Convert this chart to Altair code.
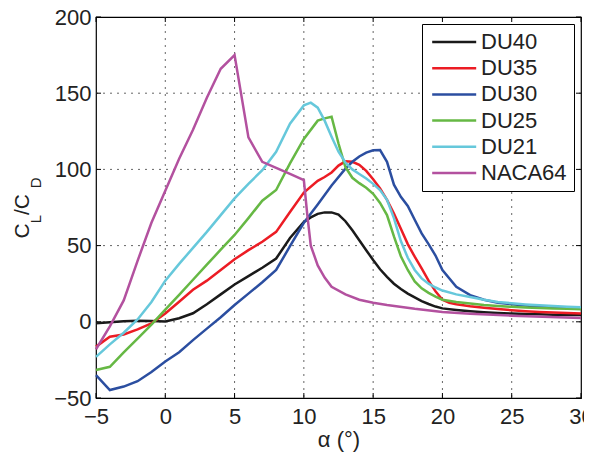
import altair as alt
import pandas as pd

FONT = "Liberation Sans"
TXT = "#222222"

series_names = ["DU40", "DU35", "DU30", "DU25", "DU21", "NACA64"]
series_colors = ["#1a1a1a", "#ec1c24", "#2b4ea0", "#66b844", "#66c8db", "#b3519f"]

x_ticks = [-5, 0, 5, 10, 15, 20, 25, 30]
y_ticks = [-50, 0, 50, 100, 150, 200]
x_grid = [0, 5, 10, 15, 20, 25]
y_grid = [0, 50, 100, 150]

du40_a = [-5, -4, -3, -2, -1, 0, 1, 2, 3, 4, 5, 6, 7, 8, 9, 10, 10.5, 11, 11.5, 12, 12.5, 13, 13.5, 14,
          14.5, 15, 15.5, 16, 16.5, 17, 17.5, 18, 18.5, 19, 19.5, 20, 21, 22, 23, 24, 25, 26, 27, 28, 29, 30]
du40_r = [-1, -0.3, 0.3, 0.7, 0.6, 0.2, 2.3, 5.6, 11.5, 18, 24.5, 30, 35.5, 41.5, 55, 65.5, 68.5, 70.8, 71.8,
          71.8, 70.3, 66, 60, 53.5, 47, 40.5, 34.5, 29.5, 25, 21.5, 18.5, 16, 13.6, 11.7, 10, 8.8, 7.8, 7.0,
          6.3, 5.8, 5.4, 5.1, 4.9, 4.7, 4.5, 4.4]

du35_a = [-5, -4, -3, -2, -1, 0, 1, 2, 3, 4, 5, 6, 7, 8, 9, 10, 11, 11.5, 12, 12.5, 13, 13.5, 14, 14.5, 15,
          15.5, 16, 16.5, 17, 17.5, 18, 18.5, 19, 19.5, 20, 20.5, 21, 22, 23, 24, 25, 26, 27, 28, 29, 30]
du35_r = [-16.3, -9.8, -8.3, -5, -1, 5.5, 13.2, 21, 27, 34, 41, 47, 52.5, 59, 72, 84.8, 92.5, 95, 98, 102.5,
          105.3, 105, 103, 99, 93.5, 87.5, 80, 71, 61, 51, 42.7, 35, 27, 20, 14.5, 12.5, 11.5, 10.2, 9.2,
          8.4, 7.6, 7, 6.5, 6.1, 5.7, 5.4]

du30_a = [-5, -4, -3, -2, -1, 0, 1, 2, 3, 4, 5, 6, 7, 8, 9, 10, 11, 12, 13, 13.5, 14, 14.5, 15, 15.5, 16,
          16.5, 17, 17.5, 18, 18.5, 19, 19.5, 20, 21, 22, 23, 24, 25, 26, 27, 28, 29, 30]
du30_r = [-35, -44.8, -42.5, -39, -33, -26, -20, -12, -4.5, 3, 11, 18.5, 26, 34, 49.6, 65, 77, 89.5, 100.5,
          105, 108.5, 111, 112.5, 112.7, 105, 90, 82, 76, 67, 58, 51, 43.5, 34, 23, 17.5, 14.5, 12.5, 11.5,
          10.7, 10.1, 9.6, 9.2, 8.9]

du25_a = [-5, -4, -3, -2, -1, 0, 1, 2, 3, 4, 5, 6, 7, 8, 9, 10, 11, 11.5, 12, 12.5, 13, 13.5, 14, 14.5, 15,
          15.5, 16, 16.5, 17, 17.5, 18, 18.5, 19, 19.5, 20, 21, 22, 23, 24, 25, 26, 27, 28, 29, 30]
du25_r = [-31.6, -29.5, -20, -11, -1.9, 8, 17.7, 27.6, 37.5, 47.3, 57, 68, 79.5, 86.5, 104, 120, 132, 133.5,
          134.6, 117, 101.5, 94.5, 91, 88, 84, 78, 70, 56, 43, 34, 26.5, 22, 19, 16.5, 14.5, 13, 12, 11,
          10.3, 9.8, 9.4, 9, 8.7, 8.5, 8.3]

du21_a = [-5, -4, -3, -2, -1, 0, 1, 2, 3, 4, 5, 6, 7, 8, 9, 10, 10.5, 11, 11.5, 12, 12.5, 13, 13.5, 14, 14.5,
          15, 15.5, 16, 16.5, 17, 17.5, 18, 18.5, 19, 19.5, 20, 21, 22, 23, 24, 25, 26, 27, 28, 29, 30]
du21_r = [-23, -14.8, -7.2, 1.5, 13, 27, 38, 48.5, 59, 70, 81, 90.5, 99.5, 111.5, 130, 142, 143.8, 140.5,
          132, 121.5, 111.6, 104.5, 100, 97, 94, 90.5, 86.5, 80, 68, 53, 42, 34, 28.5, 25, 22.5, 20.5, 18,
          16.3, 14.5, 13, 12.2, 11.4, 10.8, 10.3, 9.9, 9.6]

naca_a = [-5, -4, -3, -2, -1, 0, 1, 2, 3, 4, 5, 6, 7, 8, 9, 10, 10.25, 10.5, 11, 11.5, 12, 13, 14, 15, 16,
          18, 20, 22, 25, 30]
naca_r = [-18, -3, 14, 40, 65, 86, 107, 126, 147, 166, 175, 121, 105, 101, 97, 93, 70, 50, 37, 29, 23, 18,
          14.5, 12.5, 11, 8.5, 6.5, 5.3, 4, 2.5]

all_a = [du40_a, du35_a, du30_a, du25_a, du21_a, naca_a]
all_r = [du40_r, du35_r, du30_r, du25_r, du21_r, naca_r]

rows = []
for k, (name, xs, ys) in enumerate(zip(series_names, all_a, all_r)):
    for i, (a, r) in enumerate(zip(xs, ys)):
        rows.append({"alpha": a, "ratio": r, "airfoil": name, "k": k, "i": i})
df = pd.DataFrame(rows)

W, H = 485, 381
TL = 5

xscale = alt.Scale(domain=[-5, 30], nice=False, zero=False)
yscale = alt.Scale(domain=[-50, 200], nice=False, zero=False)

xaxis = alt.Axis(values=x_ticks, title="α (°)", grid=False, ticks=False, tickSize=0, domain=False,
                 labelFontSize=22, labelFont=FONT, labelColor=TXT, labelPadding=8, labelFlush=False,
                 labelOverlap=False, titleFontSize=22, titleFont=FONT, titleFontWeight="normal",
                 titleColor=TXT, titleY=48, titleBaseline="alphabetic", titleX=W / 2, titleAlign="center")
yaxis = alt.Axis(values=y_ticks, title=None, grid=False, ticks=False, tickSize=0, domain=False,
                 labelFontSize=22, labelFont=FONT, labelColor=TXT, labelPadding=5, labelFlush=False,
                 labelOverlap=False)

X = lambda: alt.X("alpha:Q", scale=xscale, axis=xaxis)
Y = lambda: alt.Y("ratio:Q", scale=yscale, axis=yaxis)

xg = pd.DataFrame({"alpha": x_grid})
yg = pd.DataFrame({"ratio": y_grid})
xt = pd.DataFrame({"alpha": x_ticks})
yt = pd.DataFrame({"ratio": y_ticks})

grid_style = dict(color="#666666", strokeWidth=1, strokeDash=[2, 5])
vgrid = alt.Chart(xg).mark_rule(**grid_style).encode(x=X(), y=alt.value(0), y2=alt.value(H))
hgrid = alt.Chart(yg).mark_rule(**grid_style).encode(y=Y(), x=alt.value(0), x2=alt.value(W))

tick_style = dict(color="black", strokeWidth=1)
tb = alt.Chart(xt).mark_rule(**tick_style).encode(x=X(), y=alt.value(H), y2=alt.value(H - TL))
tt = alt.Chart(xt).mark_rule(**tick_style).encode(x=X(), y=alt.value(0), y2=alt.value(TL))
tl = alt.Chart(yt).mark_rule(**tick_style).encode(y=Y(), x=alt.value(0), x2=alt.value(TL))
tr = alt.Chart(yt).mark_rule(**tick_style).encode(y=Y(), x=alt.value(W), x2=alt.value(W - TL))

lines = alt.Chart(df).mark_line(strokeWidth=2.5).encode(
    x=X(), y=Y(),
    color=alt.Color("airfoil:N",
                    scale=alt.Scale(domain=series_names, range=series_colors),
                    legend=alt.Legend(title=None, orient="top-right", offset=7,
                                      symbolType="M-1.42,0H6.58", symbolSize=121, symbolStrokeWidth=2.5,
                                      labelFontSize=22, labelFont=FONT, labelColor=TXT,
                                      padding=7, rowPadding=4.2, strokeColor="black", fillColor="white",
                                      labelOffset=30, cornerRadius=0, symbolOpacity=1)),
    order=alt.Order("i:Q"),
    detail="k:N",
)


def piece(txt, x, y, size):
    return alt.Chart(pd.DataFrame({"t": [txt]})).mark_text(
        text=txt, angle=270, align="left", baseline="alphabetic", font=FONT, fontSize=size, color=TXT
    ).encode(x=alt.value(x), y=alt.value(y))


title_layers = [
    piece("C", -67.5, 221.5, 21),
    piece("L", -55, 206.3, 15),
    piece(" /C", -67.5, 198.0, 21),
    piece("D", -55, 171.2, 15),
]

chart = alt.layer(vgrid, hgrid, tb, tt, tl, tr, lines, *title_layers).properties(
    width=W, height=H,
    padding={"left": 88, "top": 9, "right": 3, "bottom": 56},
    autosize=alt.AutoSizeParams(type="none"),
).configure_view(stroke="black", strokeWidth=1.2)

chart.save("out.html", embed_options={"renderer": "svg", "actions": False})
